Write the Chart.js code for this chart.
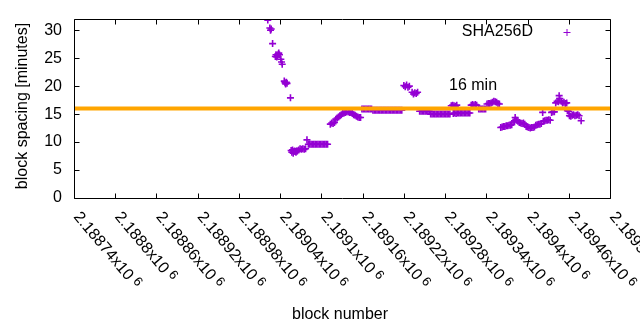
<!DOCTYPE html>
<html>
<head>
<meta charset="utf-8">
<script src="https://cdn.jsdelivr.net/npm/chart.js@4/dist/chart.umd.min.js"></script>
<style>
html,body{margin:0;padding:0;background:#fff;}
#wrap{width:640px;height:330px;position:relative;}
</style>
</head>
<body>
<div id="wrap"><canvas id="c" width="640" height="330"></canvas></div>
<script>
// ---- data ----
const BLOCK_BASE = 2189000;
const blockOffsets = [
  22,25,26,27,29,
  33,34,35,36,37,38,39,41,42,43,
  46,47,48,49,50,55,
  56,57,58,59,60,61,62,63,64,65,
  67,69,71,73,75,77,79,
  81,83,85,87,89,91,93,95,97,99,101,103,105,107,109,
  113,115,117,119,121,123,125,127,129,131,133,
  135,137,139,141,143,145,147,149,151,153,155,157,
  159,161,163,165,167,169,171,173,
  175,177,179,181,183,185,187,189,191,193,195,197,199,201,203,205,207,209,211,213,215,217,
  220,222,224,226,228,232,234,236,238,240,
  243,245,247,249,251,253,255,257,
  259,261,263,265,267,269,271,273,275,277,279,281,283,285,287,
  289,291,292,293,294,295,296,297,298,
  300,302,304,306,308,310,312,314,316,
  318,320,322,324,326,
  329,331,333,335,337,339,
  341,343,345,347,349,351,353,355,357,359,
  361,363,365,367,369,371,373,375,377,
  379,381,382,384,386,
  388,390,392,394,396,
  398,400,402,404,406,408,410,
  412,414,416,418,420,
  422,423,425,427,429,431,433,
  435,437,439,
  441,443,445,446,447,449,
  451,453,455,457,458,460,
  461,463,465,467,469,471,473,475,478
];
const spacingMinutes = [
  31.8,30.4,30.0,30.2,27.6,
  25.3,25.6,25.2,25.4,25.7,25.9,25.6,24.8,24.3,23.9,
  20.9,20.6,20.4,20.7,20.5,17.9,
  8.5,8.2,8.6,8.0,8.3,8.4,8.3,8.2,8.4,8.4,
  8.6,8.8,8.7,8.8,8.7,8.8,10.4,
  9.6,9.6,9.6,9.6,9.6,9.6,9.6,9.6,9.6,9.6,9.6,9.6,9.6,9.6,9.6,
  13.2,13.4,13.3,13.5,14.1,14.3,14.5,14.7,14.9,15.1,15.2,
  15.3,15.4,15.4,15.3,15.3,15.1,14.9,14.8,14.6,14.5,14.4,14.4,
  15.9,15.9,15.9,15.9,15.9,15.9,15.9,15.9,
  15.7,15.7,15.7,15.7,15.7,15.7,15.7,15.7,15.7,15.7,15.7,15.7,15.7,15.7,15.7,15.7,15.7,15.7,15.7,15.7,15.7,15.7,
  20.1,19.9,20.2,19.8,20.0,18.9,18.6,18.8,18.7,18.9,
  15.5,15.5,15.5,15.5,15.5,15.5,15.5,15.5,
  15.0,15.0,15.0,15.0,15.0,15.0,15.0,15.0,15.0,15.0,15.0,15.0,15.0,15.0,15.0,
  16.5,16.6,15.1,16.5,15.2,16.4,15.1,16.6,15.2,
  15.2,15.2,15.2,15.2,15.2,15.2,15.2,15.2,15.2,
  16.6,16.7,16.6,16.7,16.6,
  15.9,15.9,15.9,15.9,15.9,15.9,
  16.8,16.9,16.9,17.0,17.1,17.3,17.2,17.1,16.9,16.8,
  12.6,12.7,12.8,12.8,12.9,12.9,13.0,13.0,13.1,
  13.6,13.8,14.4,13.9,13.7,
  13.5,13.4,13.3,13.4,13.2,
  12.8,12.7,12.6,12.5,12.6,12.6,12.7,
  13.0,13.1,13.2,13.2,13.3,
  15.3,13.7,13.8,13.9,13.9,14.0,13.9,
  15.3,15.4,15.4,
  17.0,17.3,17.2,18.3,17.8,17.3,
  17.0,17.1,16.9,17.0,15.6,15.5,
  14.7,14.6,14.8,14.9,14.7,14.8,14.9,14.7,13.8
];
const targetMinutes = 16;
const targetLabel = '16 min';
const seriesName = 'SHA256D';
const xMin = 2188740, xMax = 2189520;
const xTickValues = [2188740,2188800,2188860,2188920,2188980,2189040,2189100,2189160,2189220,2189280,2189340,2189400,2189460,2189520];
const xTickMantissas = ['2.18874','2.1888','2.18886','2.18892','2.18898','2.18904','2.1891','2.18916','2.18922','2.18928','2.18934','2.1894','2.18946','2.18952'];
const xTickExponent = '6';
const yTickValues = [0,5,10,15,20,25,30];
const yMin = 0, yMax = 32;
const xTitle = 'block number';
const yTitle = 'block spacing [minutes]';

// ---- build chart ----
const points = blockOffsets.map((o, i) => ({x: BLOCK_BASE + o, y: spacingMinutes[i]}));
const FONT = '"Liberation Sans", Arial, sans-serif';
const PURPLE = '#9400D3';
const ORANGE = '#FFA500';

const frame = {
  id: 'gnuplotFrame',
  afterDatasetsDraw(chart) {
    const ctx = chart.ctx;
    const a = chart.chartArea;
    const xs = chart.scales.x, ys = chart.scales.y;
    ctx.save();
    ctx.strokeStyle = '#000';
    ctx.lineWidth = 1;
    const L = Math.round(a.left) + 0.5, R = Math.round(a.right) + 0.5;
    const T = Math.round(a.top) + 0.5, B = Math.round(a.bottom) + 0.5;
    ctx.beginPath();
    ctx.rect(L, T, R - L, B - T);
    const tl = 5;
    xTickValues.forEach(v => {
      const px = Math.round(xs.getPixelForValue(v)) + 0.5;
      ctx.moveTo(px, B); ctx.lineTo(px, B - tl);
      ctx.moveTo(px, T); ctx.lineTo(px, T + tl);
    });
    yTickValues.forEach(v => {
      const py = Math.round(ys.getPixelForValue(v)) + 0.5;
      ctx.moveTo(L, py); ctx.lineTo(L + tl, py);
      ctx.moveTo(R, py); ctx.lineTo(R - tl, py);
    });
    ctx.stroke();

    ctx.fillStyle = '#000';
    ctx.font = '16px ' + FONT;
    ctx.textAlign = 'right';
    ctx.textBaseline = 'middle';
    yTickValues.forEach(v => {
      ctx.fillText(String(v), a.left - 12, ys.getPixelForValue(v));
    });
    const ang = 50 * Math.PI / 180;
    xTickValues.forEach((v, i) => {
      const px = xs.getPixelForValue(v);
      ctx.save();
      ctx.translate(px - 1, a.bottom + 19);
      ctx.rotate(ang);
      ctx.textAlign = 'left';
      ctx.textBaseline = 'alphabetic';
      ctx.font = '16px ' + FONT;
      const main = xTickMantissas[i] + 'x10';
      ctx.fillText(main, 0, 0);
      const w = ctx.measureText(main).width;
      ctx.font = '13px ' + FONT;
      ctx.fillText(xTickExponent, w + 4, -4);
      ctx.restore();
    });
    ctx.font = '16px ' + FONT;
    ctx.textAlign = 'center';
    ctx.textBaseline = 'middle';
    ctx.fillText(xTitle, 340, 315);
    ctx.save();
    ctx.translate(23, 106);
    ctx.rotate(-Math.PI / 2);
    ctx.fillText(yTitle, 0, 0);
    ctx.restore();
    ctx.textAlign = 'right';
    ctx.fillText(seriesName, 533, 32);
    ctx.strokeStyle = PURPLE;
    ctx.beginPath();
    ctx.moveTo(563.5, 32.5); ctx.lineTo(570.5, 32.5);
    ctx.moveTo(567, 29); ctx.lineTo(567, 36);
    ctx.stroke();
    ctx.fillStyle = '#000';
    ctx.textAlign = 'left';
    ctx.fillText(targetLabel, 449, 86);
    ctx.restore();
  }
};

new Chart(document.getElementById('c'), {
  type: 'scatter',
  data: {
    datasets: [
      {
        type: 'line',
        label: targetLabel,
        data: [{x: xMin, y: targetMinutes}, {x: xMax, y: targetMinutes}],
        borderColor: ORANGE,
        borderWidth: 4,
        pointRadius: 0,
        fill: false,
        order: 0
      },
      {
        label: seriesName,
        data: points,
        pointStyle: 'cross',
        pointRadius: 3.5,
        borderColor: PURPLE,
        backgroundColor: PURPLE,
        borderWidth: 1.6,
        showLine: false,
        order: 1
      }
    ]
  },
  options: {
    responsive: false,
    animation: false,
    devicePixelRatio: 1,
    events: [],
    layout: {padding: {left: 74, right: 30, top: 19, bottom: 132}},
    plugins: {legend: {display: false}, tooltip: {enabled: false}},
    scales: {
      x: {type: 'linear', min: xMin, max: xMax, display: false},
      y: {type: 'linear', min: yMin, max: yMax, display: false}
    }
  },
  plugins: [frame]
});
</script>
</body>
</html>
